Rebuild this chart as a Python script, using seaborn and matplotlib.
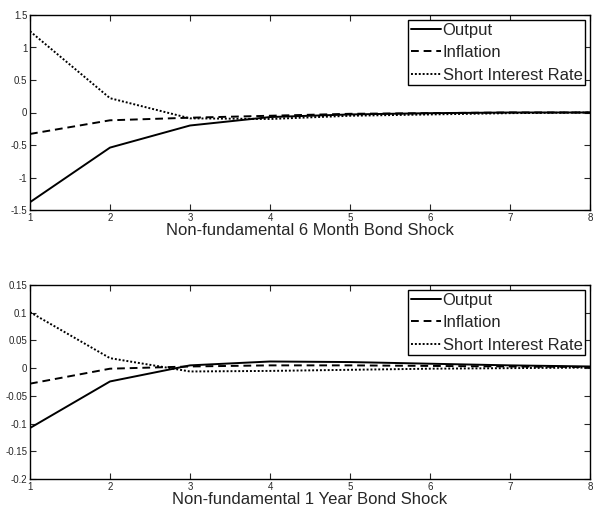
import matplotlib
matplotlib.use("Agg")
import matplotlib.pyplot as plt
import seaborn as sns
import pandas as pd

horizon = [1, 2, 3, 4, 5, 6, 7, 8]

# Non-fundamental 6 month bond shock
output_6m = [-1.38, -0.54, -0.20, -0.07, -0.03, -0.01, 0.0, 0.0]
inflation_6m = [-0.33, -0.12, -0.08, -0.05, -0.02, -0.01, 0.0, 0.0]
short_rate_6m = [1.25, 0.22, -0.09, -0.10, -0.05, -0.03, -0.01, 0.0]

# Non-fundamental 1 year bond shock
output_1y = [-0.108, -0.024, 0.005, 0.012, 0.011, 0.008, 0.005, 0.003]
inflation_1y = [-0.028, -0.001, 0.003, 0.005, 0.005, 0.004, 0.003, 0.002]
short_rate_1y = [0.101, 0.018, -0.006, -0.005, -0.003, -0.001, 0.000, 0.001]

series_names = ["Output", "Inflation", "Short Interest Rate"]
styles = {"Output": "-", "Inflation": (0, (4, 2.5)), "Short Interest Rate": (0, (1, 1))}

panels = [
    ("Non-fundamental 6 Month Bond Shock", [output_6m, inflation_6m, short_rate_6m],
     (-1.5, 1.5), [-1.5, -1, -0.5, 0, 0.5, 1, 1.5], ["-1.5", "-1", "-0.5", "0", "0.5", "1", "1.5"]),
    ("Non-fundamental 1 Year Bond Shock", [output_1y, inflation_1y, short_rate_1y],
     (-0.2, 0.15), [-0.2, -0.15, -0.1, -0.05, 0, 0.05, 0.1, 0.15],
     ["-0.2", "-0.15", "-0.1", "-0.05", "0", "0.05", "0.1", "0.15"]),
]

sns.set_style("ticks")
plt.rcParams["font.family"] = ["Liberation Sans", "DejaVu Sans"]

fig = plt.figure(figsize=(5.93, 5.18), dpi=100)
ax_pos = [[30 / 593, 1 - 210 / 518, 560 / 593, 195 / 518],
          [30 / 593, 1 - 479 / 518, 560 / 593, 194 / 518]]

for pos, (title, vals, ylim, yticks, ylabels) in zip(ax_pos, panels):
    ax = fig.add_axes(pos)
    df = pd.DataFrame({
        "horizon": horizon * 3,
        "value": vals[0] + vals[1] + vals[2],
        "series": [s for s in series_names for _ in horizon],
    })
    for name in series_names:
        sub = df[df["series"] == name]
        sns.lineplot(data=sub, x="horizon", y="value", ax=ax, color="black",
                     linestyle=styles[name], linewidth=1.4, label=name)
    ax.set_xlim(1, 8)
    ax.set_ylim(*ylim)
    ax.set_xticks(horizon)
    ax.set_xticklabels([str(h) for h in horizon])
    ax.set_yticks(yticks)
    ax.set_yticklabels(ylabels)
    ax.tick_params(direction="in", length=4, width=0.8, labelsize=7,
                   top=True, right=True, pad=2)
    for sp in ax.spines.values():
        sp.set_linewidth(1.0)
        sp.set_color("black")
    ax.set_ylabel("")
    ax.set_xlabel(title, fontsize=12, labelpad=0)
    leg = ax.legend(loc="upper right", fontsize=12, frameon=True, fancybox=False,
                    handlelength=1.8, handletextpad=0.12, borderpad=0.15,
                    labelspacing=0.45, borderaxespad=0.3)
    leg.get_frame().set_edgecolor("black")
    leg.get_frame().set_linewidth(1.0)
    leg.get_frame().set_alpha(1)

fig.savefig("out.png", dpi=100)
